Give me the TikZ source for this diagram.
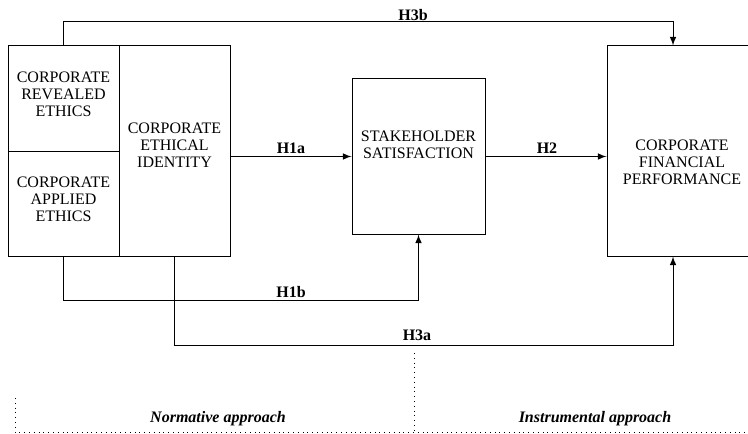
\documentclass[tikz,border=0pt]{standalone}
\usepackage{fontspec}
\setmainfont{Liberation Serif}
\usetikzlibrary{arrows}

\begin{document}
\begin{tikzpicture}[x=0.5pt,y=-0.5pt,
    box/.style={draw,line width=0.5pt,inner sep=0pt,minimum width=55.5pt},
    intext/.style={align=center,font=\fontsize{8}{8.6}\selectfont},
    hyp/.style={font=\fontsize{8}{8.6}\selectfont\bfseries},
    appr/.style={font=\fontsize{8}{8.6}\selectfont\bfseries\itshape},
    conn/.style={->,>=latex,line width=0.5pt}]
    % Definitions
    \coordinate (CRE) at (63.5,98.5);
    \coordinate (CAE) at (63.5,203.5);
    \coordinate (CEI) at (174.5,151);
    \coordinate (SS)  at (418.5,156.5);
    \coordinate (CFP) at (682,151);
    \coordinate (AR)  at (673,0);
    \coordinate (TopY) at (0,22);
    \coordinate (MidY) at (0,300.5);
    \coordinate (BotY) at (0,345);
    % Frame
    \useasboundingbox (0,0) rectangle (748,433);
    \clip (0,0) rectangle (748,433);
    % Boxes
    \node(CoReEt) at (CRE) [box,minimum height=52.5pt,label={[intext,yshift=2.25pt]center:{CORPORATE\\REVEALED\\ETHICS}}] {};
    \node(CoApEt) at (CAE) [box,minimum height=52.5pt,label={[intext,yshift=2.25pt]center:{CORPORATE\\APPLIED\\ETHICS}}] {};
    \node(CoEtId) at (CEI) [box,minimum height=105pt,label={[intext,yshift=3pt]center:{CORPORATE\\ETHICAL\\IDENTITY}}] {};
    \node(StSa)   at (SS)  [box,minimum width=66.5pt,minimum height=77.5pt,label={[intext,yshift=5.75pt]center:{STAKEHOLDER\\SATISFACTION}}] {};
    \node(CoFiPe) at (CFP) [box,minimum width=75pt,minimum height=105pt,label={[intext,yshift=-5.5pt]center:{CORPORATE\\FINANCIAL\\PERFORMANCE}}] {};
    % Arrows
    \draw[conn] (CoEtId.east |- StSa.west) -- (StSa.west);
    \draw[conn] (StSa.east) -- (CoFiPe.west |- StSa.east);
    \draw[conn] (CoApEt.south) -- (CoApEt.south |- MidY) -| (StSa.south);
    \draw[conn] (CoEtId.south) -- (CoEtId.south |- BotY) -| (CoFiPe.south -| AR);
    \draw[conn] (CoReEt.north) -- (CoReEt.north |- TopY) -| (CoFiPe.north -| AR);
    % Hypotheses
    \node(HOa) at (291,148) [hyp] {H1a};
    \node(HOb) at (291,292) [hyp] {H1b};
    \node(HTw) at (547,148) [hyp] {H2};
    \node(HTa) at (417,335) [hyp] {H3a};
    \node(HTb) at (413,15)  [hyp] {H3b};
    % Approaches
    \draw[dotted,line width=0.4pt] (15,398) -- (15,432) -- (748,432);
    \draw[dotted,line width=0.4pt] (414,353) -- (414,432);
    \node(NoAp) at (218,419) [appr] {Normative approach};
    \node(InAp) at (595,419) [appr] {Instrumental approach};
\end{tikzpicture}
\end{document}
